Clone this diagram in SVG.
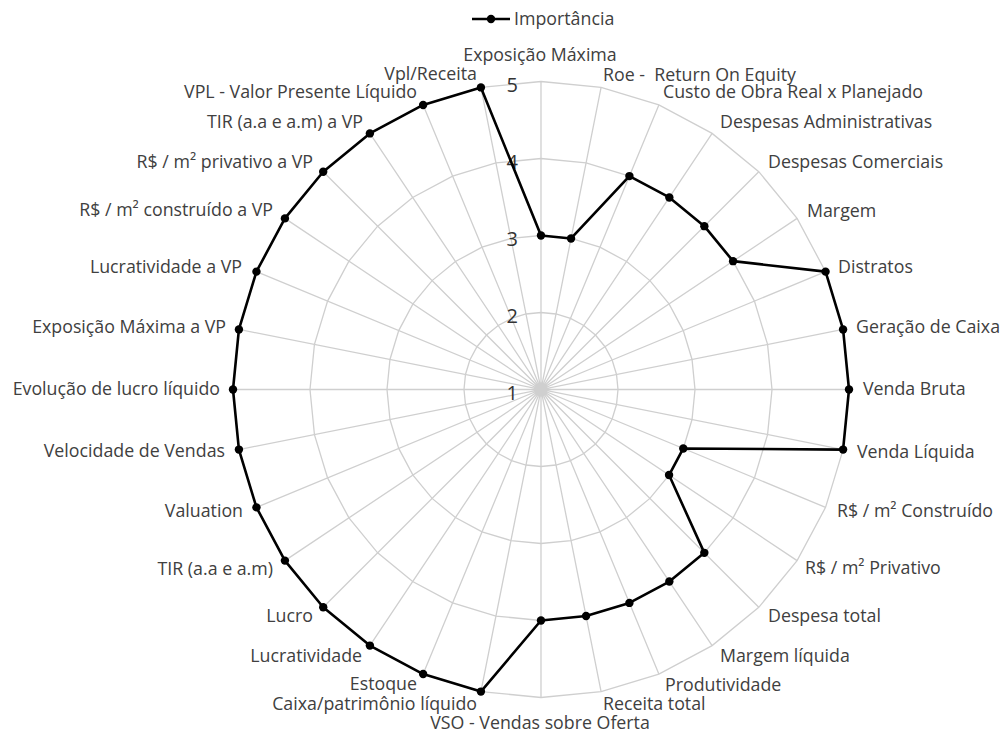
<svg xmlns="http://www.w3.org/2000/svg" width="1002" height="736" viewBox="0 0 1002 736">
<style>
.grid{fill:none;stroke:#cfcfcf;stroke-width:1.3}
.lbl{font-family:"Open Sans","Noto Sans","Liberation Sans",sans-serif;font-size:17.8px;fill:#404040}
.tick{font-family:"Open Sans","Noto Sans","Liberation Sans",sans-serif;font-size:20px;fill:#333;text-anchor:end}
.s{text-anchor:start}.e{text-anchor:end}.m{text-anchor:middle}
.data{fill:none;stroke:#000;stroke-width:2.6;stroke-linejoin:round}
</style>
<defs>
<marker id="dot" markerUnits="userSpaceOnUse" markerWidth="12" markerHeight="12" refX="6" refY="6" viewBox="0 0 12 12">
<circle cx="6" cy="6" r="4.2" fill="#000"/>
</marker>
</defs>
<rect width="1002" height="736" fill="#fff"/>
<g id="grid" transform="translate(541,389.5)">
<polygon class="grid" points="0,-308 60.09,-302.08 117.87,-284.56 171.12,-256.09 217.79,-217.79 256.09,-171.12 284.56,-117.87 302.08,-60.09 308,0 302.08,60.09 284.56,117.87 256.09,171.12 217.79,217.79 171.12,256.09 117.87,284.56 60.09,302.08 0,308 -60.09,302.08 -117.87,284.56 -171.12,256.09 -217.79,217.79 -256.09,171.12 -284.56,117.87 -302.08,60.09 -308,0 -302.08,-60.09 -284.56,-117.87 -256.09,-171.12 -217.79,-217.79 -171.12,-256.09 -117.87,-284.56 -60.09,-302.08"/>
<polygon class="grid" points="0,-231 45.07,-226.56 88.4,-213.42 128.34,-192.07 163.34,-163.34 192.07,-128.34 213.42,-88.4 226.56,-45.07 231,0 226.56,45.07 213.42,88.4 192.07,128.34 163.34,163.34 128.34,192.07 88.4,213.42 45.07,226.56 0,231 -45.07,226.56 -88.4,213.42 -128.34,192.07 -163.34,163.34 -192.07,128.34 -213.42,88.4 -226.56,45.07 -231,0 -226.56,-45.07 -213.42,-88.4 -192.07,-128.34 -163.34,-163.34 -128.34,-192.07 -88.4,-213.42 -45.07,-226.56"/>
<polygon class="grid" points="0,-154 30.04,-151.04 58.93,-142.28 85.56,-128.05 108.89,-108.89 128.05,-85.56 142.28,-58.93 151.04,-30.04 154,0 151.04,30.04 142.28,58.93 128.05,85.56 108.89,108.89 85.56,128.05 58.93,142.28 30.04,151.04 0,154 -30.04,151.04 -58.93,142.28 -85.56,128.05 -108.89,108.89 -128.05,85.56 -142.28,58.93 -151.04,30.04 -154,0 -151.04,-30.04 -142.28,-58.93 -128.05,-85.56 -108.89,-108.89 -85.56,-128.05 -58.93,-142.28 -30.04,-151.04"/>
<polygon class="grid" points="0,-77 15.02,-75.52 29.47,-71.14 42.78,-64.02 54.45,-54.45 64.02,-42.78 71.14,-29.47 75.52,-15.02 77,0 75.52,15.02 71.14,29.47 64.02,42.78 54.45,54.45 42.78,64.02 29.47,71.14 15.02,75.52 0,77 -15.02,75.52 -29.47,71.14 -42.78,64.02 -54.45,54.45 -64.02,42.78 -71.14,29.47 -75.52,15.02 -77,0 -75.52,-15.02 -71.14,-29.47 -64.02,-42.78 -54.45,-54.45 -42.78,-64.02 -29.47,-71.14 -15.02,-75.52"/>
<path class="grid" d="M0,-308L0,308M60.09,-302.08L-60.09,302.08M117.87,-284.56L-117.87,284.56M171.12,-256.09L-171.12,256.09M217.79,-217.79L-217.79,217.79M256.09,-171.12L-256.09,171.12M284.56,-117.87L-284.56,117.87M302.08,-60.09L-302.08,60.09M308,0L-308,0M302.08,60.09L-302.08,-60.09M284.56,117.87L-284.56,-117.87M256.09,171.12L-256.09,-171.12M217.79,217.79L-217.79,-217.79M171.12,256.09L-171.12,-256.09M117.87,284.56L-117.87,-284.56M60.09,302.08L-60.09,-302.08"/>
</g>
<g id="ticks">
<text class="tick" x="518" y="92">5</text>
<text class="tick" x="518" y="169">4</text>
<text class="tick" x="518" y="246">3</text>
<text class="tick" x="518" y="323">2</text>
<text class="tick" x="518" y="400">1</text>
</g>
<g id="series" transform="translate(541,389.5)">
<polygon class="data" marker-start="url(#dot)" marker-mid="url(#dot)" points="0,-154 30.04,-151.04 88.4,-213.42 128.34,-192.07 163.34,-163.34 192.07,-128.34 284.56,-117.87 302.08,-60.09 308,0 302.08,60.09 142.28,58.93 128.05,85.56 163.34,163.34 128.34,192.07 88.4,213.42 45.07,226.56 0,231 -60.09,302.08 -117.87,284.56 -171.12,256.09 -217.79,217.79 -256.09,171.12 -284.56,117.87 -302.08,60.09 -308,0 -302.08,-60.09 -284.56,-117.87 -256.09,-171.12 -217.79,-217.79 -171.12,-256.09 -117.87,-284.56 -60.09,-302.08"/>
</g>
<g id="labels" class="lbl">
<text class="lbl m" x="540" y="61">Exposição Máxima</text>
<text class="lbl s" x="603" y="81" xml:space="preserve">Roe -  Return On Equity</text>
<text class="lbl s" x="663" y="98">Custo de Obra Real x Planejado</text>
<text class="lbl s" x="720" y="128">Despesas Administrativas</text>
<text class="lbl s" x="768" y="168">Despesas Comerciais</text>
<text class="lbl s" x="807" y="217">Margem</text>
<text class="lbl s" x="838" y="273">Distratos</text>
<text class="lbl s" x="856" y="333">Geração de Caixa</text>
<text class="lbl s" x="863" y="395">Venda Bruta</text>
<text class="lbl s" x="857" y="458">Venda Líquida</text>
<text class="lbl s" x="837" y="517">R$ / m² Construído</text>
<text class="lbl s" x="805" y="574">R$ / m² Privativo</text>
<text class="lbl s" x="768" y="622">Despesa total</text>
<text class="lbl s" x="720" y="662">Margem líquida</text>
<text class="lbl s" x="665" y="691">Produtividade</text>
<text class="lbl s" x="603" y="710">Receita total</text>
<text class="lbl m" x="540" y="729">VSO - Vendas sobre Oferta</text>
<text class="lbl e" x="477" y="710">Caixa/patrimônio líquido</text>
<text class="lbl e" x="417" y="690">Estoque</text>
<text class="lbl e" x="362" y="662">Lucratividade</text>
<text class="lbl e" x="313" y="622">Lucro</text>
<text class="lbl e" x="273" y="575">TIR (a.a e a.m)</text>
<text class="lbl e" x="243" y="517">Valuation</text>
<text class="lbl e" x="225" y="457">Velocidade de Vendas</text>
<text class="lbl e" x="220" y="395">Evolução de lucro líquido</text>
<text class="lbl e" x="226" y="333">Exposição Máxima a VP</text>
<text class="lbl e" x="242" y="273">Lucratividade a VP</text>
<text class="lbl e" x="273" y="216">R$ / m² construído a VP</text>
<text class="lbl e" x="313" y="168">R$ / m² privativo a VP</text>
<text class="lbl e" x="363" y="128">TIR (a.a e a.m) a VP</text>
<text class="lbl e" x="417" y="98">VPL - Valor Presente Líquido</text>
<text class="lbl e" x="477" y="80">Vpl/Receita</text>
</g>
<g id="legend">
<line x1="472" y1="19" x2="510" y2="19" stroke="#000" stroke-width="2.6"/>
<circle cx="491" cy="19" r="4.2" fill="#000"/>
<text class="lbl s" x="514" y="25">Importância</text>
</g>
</svg>
